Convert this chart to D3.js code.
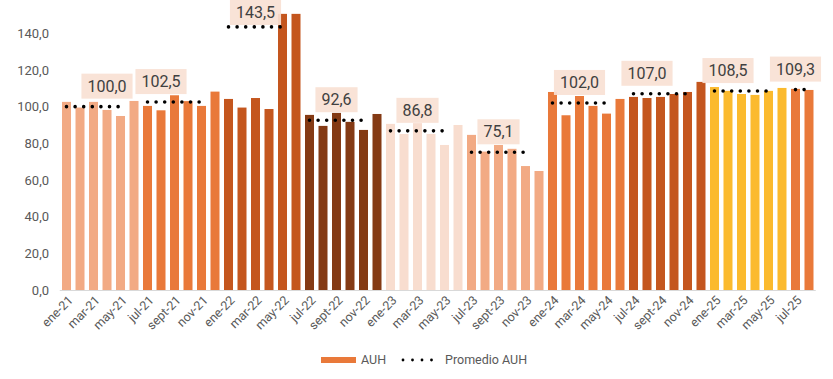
<!DOCTYPE html>
<html><head><meta charset="utf-8">
<script src="https://cdn.jsdelivr.net/npm/d3@7"></script>
<style>body{margin:0;background:#fff;} svg{display:block;font-family:Roboto, sans-serif;}</style>
</head><body><svg id="c" width="833" height="379"></svg>
<script>
const meses = [
 "ene-21","feb-21","mar-21","abr-21","may-21","jun-21","jul-21","ago-21","sept-21","oct-21","nov-21","dic-21",
 "ene-22","feb-22","mar-22","abr-22","may-22","jun-22","jul-22","ago-22","sept-22","oct-22","nov-22","dic-22",
 "ene-23","feb-23","mar-23","abr-23","may-23","jun-23","jul-23","ago-23","sept-23","oct-23","nov-23","dic-23",
 "ene-24","feb-24","mar-24","abr-24","may-24","jun-24","jul-24","ago-24","sept-24","oct-24","nov-24","dic-24",
 "ene-25","feb-25","mar-25","abr-25","may-25","jun-25","jul-25","ago-25"];
const auh = [
 102.6, 99.5,102.6, 98.2, 94.9,103.1,100.4, 98.0,106.2,103.0,100.4,108.2,
 104.2, 99.5,104.7, 98.7,150.6,150.6, 95.5, 89.5, 96.6, 91.7, 87.3, 96.0,
  90.6, 85.1, 91.0, 85.1, 79.1, 90.0, 84.6, 75.5, 79.1, 77.0, 67.6, 64.9,
 108.0, 95.3,105.8,100.4, 96.2,104.2,105.3,104.7,105.3,106.9,108.0,113.5,
 110.7,108.6,106.9,106.4,108.6,110.2,109.7,109.1];
const periodoInicio   = ["ene-21","jul-21","ene-22","jul-22","ene-23","jul-23","ene-24","jul-24","ene-25","jul-25"];
const periodoFinLinea = ["may-21","nov-21","may-22","nov-22","may-23","nov-23","may-24","nov-24","may-25","ago-25"];
const periodoEtiqueta = ["abr-21","ago-21","mar-22","sept-22","mar-23","sept-23","mar-24","ago-24","feb-25","jul-25"];
const promedioAUH     = [100.0, 102.5, 143.5, 92.6, 86.8, 75.1, 102.0, 107.0, 108.5, 109.3];
const mesesEtiquetados = ["ene","mar","may","jul","sept","nov"];
const yTicks = [0,20,40,60,80,100,120,140];
const colorPeriodo = ["#F2AA84","#E9793A","#C4561E","#843A14","#F8DDCF","#F2AA84","#E9793A","#C4561E","#FBBA2E","#E9793A"];

const svg = d3.select("#c");
const x = d3.scaleBand().domain(meses).range([59.75, 815.75]).paddingInner(0.333).paddingOuter(0.167);
const y = d3.scaleLinear().domain([0,140]).range([290, 33.3]);
const fmt = v => d3.format(".1f")(v).replace(".", ",");
const periodoDe = i => { let p = 0; periodoInicio.forEach((m,k)=>{ if (meses.indexOf(m) <= i) p = k; }); return p; };
const cx = m => x(m) + x.bandwidth()/2;

// bars
svg.append("g").selectAll("rect").data(meses).join("rect")
  .attr("x", d => x(d)).attr("width", x.bandwidth())
  .attr("y", (d,i) => y(auh[i])).attr("height", (d,i) => y(0) - y(auh[i]))
  .attr("fill", (d,i) => colorPeriodo[periodoDe(i)]);

// baseline
svg.append("line").attr("x1", 59.75).attr("x2", 815.75).attr("y1", y(0)+0.5).attr("y2", y(0)+0.5)
  .attr("stroke", "#D9D9D9").attr("stroke-width", 1);

// y axis labels
svg.append("g").selectAll("text").data(yTicks).join("text")
  .attr("x", 49).attr("y", d => y(d)).attr("dy", "0.35em").attr("text-anchor", "end")
  .attr("font-size", 13).attr("fill", "#595959").text(fmt);

// x axis labels
svg.append("g").selectAll("text").data(meses.filter(m => mesesEtiquetados.includes(m.split("-")[0]))).join("text")
  .attr("transform", d => `translate(${cx(d)+4},${298}) rotate(-45)`)
  .attr("text-anchor", "end").attr("dy", "0.35em")
  .attr("font-size", 12.5).attr("fill", "#595959").text(d => d);

// average lines
const gl = svg.append("g");
promedioAUH.forEach((v,k) => {
  gl.append("line").attr("x1", cx(periodoInicio[k])).attr("x2", cx(periodoFinLinea[k]))
    .attr("y1", y(v)).attr("y2", y(v))
    .attr("stroke", "#000").attr("stroke-width", 3.6).attr("stroke-linecap", "round")
    .attr("stroke-dasharray", "0 8.6");
});
// labels (kept inside the chart area)
promedioAUH.forEach((v,k) => {
  const g = svg.append("g");
  const top = Math.max(0, y(v) - 8 - 25);
  const t = g.append("text").attr("x", cx(periodoEtiqueta[k])).attr("y", top + 12.5)
    .attr("dy", "0.35em").attr("text-anchor", "middle").attr("font-size", 16).attr("fill", "#404040").text(fmt(v));
  const w = t.node().getComputedTextLength() + 12;
  g.insert("rect", "text").attr("x", cx(periodoEtiqueta[k]) - w/2).attr("y", top)
    .attr("width", w).attr("height", 25).attr("fill", "#F9E1D4").attr("fill-opacity", 0.92);
});

// legend
const lg = svg.append("g");
lg.append("rect").attr("x", 321).attr("y", 357).attr("width", 35).attr("height", 6).attr("fill", "#E9793A");
lg.append("text").attr("x", 361).attr("y", 360).attr("dy", "0.35em").attr("font-size", 12.5).attr("fill", "#595959").text("AUH");
lg.append("line").attr("x1", 403).attr("x2", 441).attr("y1", 360).attr("y2", 360)
  .attr("stroke", "#000").attr("stroke-width", 2.8).attr("stroke-linecap", "round").attr("stroke-dasharray", "0 9.5");
lg.append("text").attr("x", 445).attr("y", 360).attr("dy", "0.35em").attr("font-size", 12.5).attr("fill", "#595959").text("Promedio AUH");
</script></body></html>
